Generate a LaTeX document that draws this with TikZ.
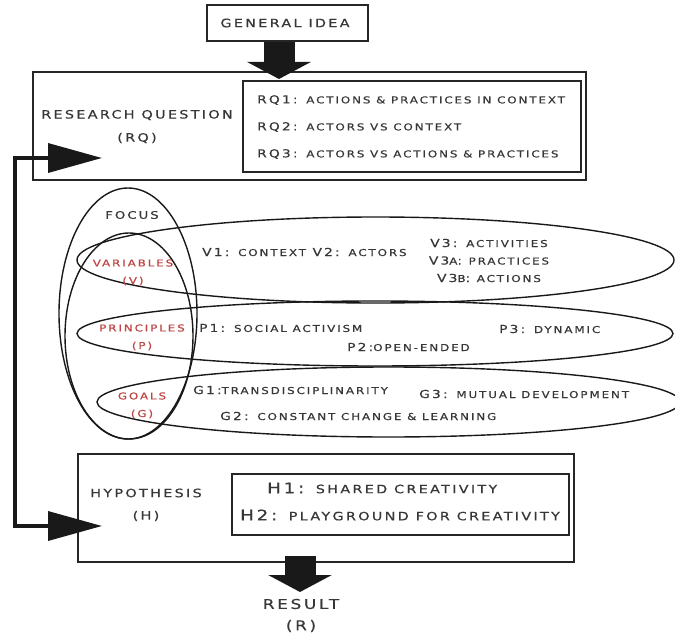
\documentclass[tikz,border=0pt]{standalone}
\usepackage{fontspec}
\setmainfont{DejaVu Sans}[FakeStretch=1.25,LetterSpace=20,FakeBold=0.6]
\usetikzlibrary{arrows.meta,positioning,shapes.geometric}
\definecolor{inkgray}{RGB}{55,55,55}
\definecolor{labelred}{RGB}{190,68,68}
\newcommand\sccaps[2][9.5]{{\fontsize{#1}{#1}\selectfont\MakeUppercase{#2}}}

\begin{document}
\begin{tikzpicture}[x=1pt,y=-1pt,
	box/.style={rectangle,draw=black!85,line width=1.5pt,inner sep=0pt},
	oval/.style={ellipse,draw=black!90,line width=1.4pt,inner sep=0pt},
	txt/.style={text=inkgray,inner sep=0pt,font=\fontsize{11}{11}\selectfont},
	entry/.style={txt,anchor=west},
	red label/.style={txt,text=labelred,font=\fontsize{9.5}{9.5}\selectfont},
	block arrow/.style={draw=black!90,line width=31pt,-{Triangle[length=17pt,width=63pt]}},
	feedback/.style={draw=black!90,line width=3.5pt,
		{Triangle[length=54pt,width=29pt]}-{Triangle[length=54pt,width=29pt]}}]
	
	\useasboundingbox (0,0) rectangle (675,634);
	
	% general idea
	\node[box,minimum width=161pt,minimum height=36pt] (gi) at (287.5,23) {};
	\node[txt,font=\fontsize{11.5}{11.5}\selectfont] (gitext) at (285,23) {GENERAL IDEA};
	
	% research question
	\node[box,minimum width=553pt,minimum height=108pt] (rqout) at (309.5,126) {};
	\node[box,minimum width=338pt,minimum height=91pt] (rqin) at (412,126.5) {};
	\node[txt,font=\fontsize{11.5}{11.5}\selectfont] (rqname) at (137,115) {RESEARCH QUESTION};
	\node[txt,font=\fontsize{11.5}{11.5}\selectfont,below=23pt of rqname.center,anchor=center] (rqabbr) {(RQ)};
	\node[entry] (rq1) at (257,100) {RQ1: \sccaps{actions \& practices in context}};
	\node[entry,below=27pt of rq1.west,anchor=west] (rq2) {RQ2: \sccaps{actors vs context}};
	\node[entry,below=27pt of rq2.west,anchor=west] (rq3) {RQ3: \sccaps{actors vs actions \& practices}};
	
	% focus
	\node[oval,minimum width=138pt,minimum height=251pt] (focus) at (128,313.5) {};
	\node[oval,minimum width=128pt,minimum height=206pt] (core) at (129,336) {};
	\node[oval,minimum width=597pt,minimum height=86pt] (var) at (375.5,260) {};
	\node[oval,minimum width=596pt,minimum height=65pt] (prin) at (375,333.5) {};
	\node[oval,minimum width=583pt,minimum height=70pt] (goal) at (388.5,402) {};
	\node[txt,font=\fontsize{10.5}{10.5}\selectfont] (focustext) at (132,215) {FOCUS};
	
	\node[red label] (vname) at (133,263) {VARIABLES};
	\node[red label,below=18pt of vname.center,anchor=center] (vabbr) {(V)};
	\node[red label] (pname) at (142,328) {PRINCIPLES};
	\node[red label,below=18pt of pname.center,anchor=center] (pabbr) {(P)};
	\node[red label] (gname) at (142,396) {GOALS};
	\node[red label,below=18pt of gname.center,anchor=center] (gabbr) {(G)};
	
	\node[entry] (v1) at (202,252) {V1: \sccaps{context} V2: \sccaps{actors}};
	\node[txt] (v3) at (489,243) {V3: \sccaps{activities}};
	\node[txt,below=17.5pt of v3.center,anchor=center] (v3a) {V3\sccaps{a}: \sccaps{practices}};
	\node[txt,below=17.5pt of v3a.center,anchor=center] (v3b) {V3\sccaps{b}: \sccaps{actions}};
	
	\node[entry] (p1) at (199,328) {P1: \sccaps{social activism}};
	\node[entry] (p2) at (347,347) {P2:\sccaps{open-ended}};
	\node[entry] (p3) at (499,329) {P3: \sccaps{dynamic}};
	
	\node[entry] (g1) at (193,390) {G1:\sccaps{transdisciplinarity}};
	\node[entry] (g3) at (419,394) {G3: \sccaps{mutual development}};
	\node[entry] (g2) at (220,416) {G2: \sccaps{constant change \& learning}};
	
	% hypothesis
	\node[box,minimum width=496pt,minimum height=108pt] (hout) at (326,508) {};
	\node[box,minimum width=337pt,minimum height=61pt] (hin) at (400.5,504.5) {};
	\node[txt,font=\fontsize{11.5}{11.5}\selectfont] (hname) at (146,493) {HYPOTHESIS};
	\node[txt,font=\fontsize{11.5}{11.5}\selectfont,below=23pt of hname.center,anchor=center] (habbr) {(H)};
	\node[entry,font=\fontsize{14.5}{14.5}\selectfont] (h1) at (267,488) {H1: \sccaps[11.5]{shared creativity}};
	\node[entry,font=\fontsize{14.5}{14.5}\selectfont] (h2) at (240,515) {H2: \sccaps[11.5]{playground for creativity}};
	
	% result
	\node[txt,font=\fontsize{13.5}{13.5}\selectfont] (res) at (301,604) {RESULT};
	\node[txt,font=\fontsize{13.5}{13.5}\selectfont,below=22pt of res.center,anchor=center] (resabbr) {(R)};
	
	% arrows
	\coordinate (gitip) at (279,79);
	\coordinate (restip) at (300,592);
	\coordinate (fbin) at (102,158);
	\coordinate (fbout) at (102,526);
	\coordinate (fbleft) at (15,340);
	\draw[block arrow] (gi.south -| gitip) -- (gitip);
	\draw[block arrow] ([yshift=7pt]hout.south -| restip) -- (restip);
	\draw[feedback] (fbin) -| (fbleft) |- (fbout);
\end{tikzpicture}
\end{document}
